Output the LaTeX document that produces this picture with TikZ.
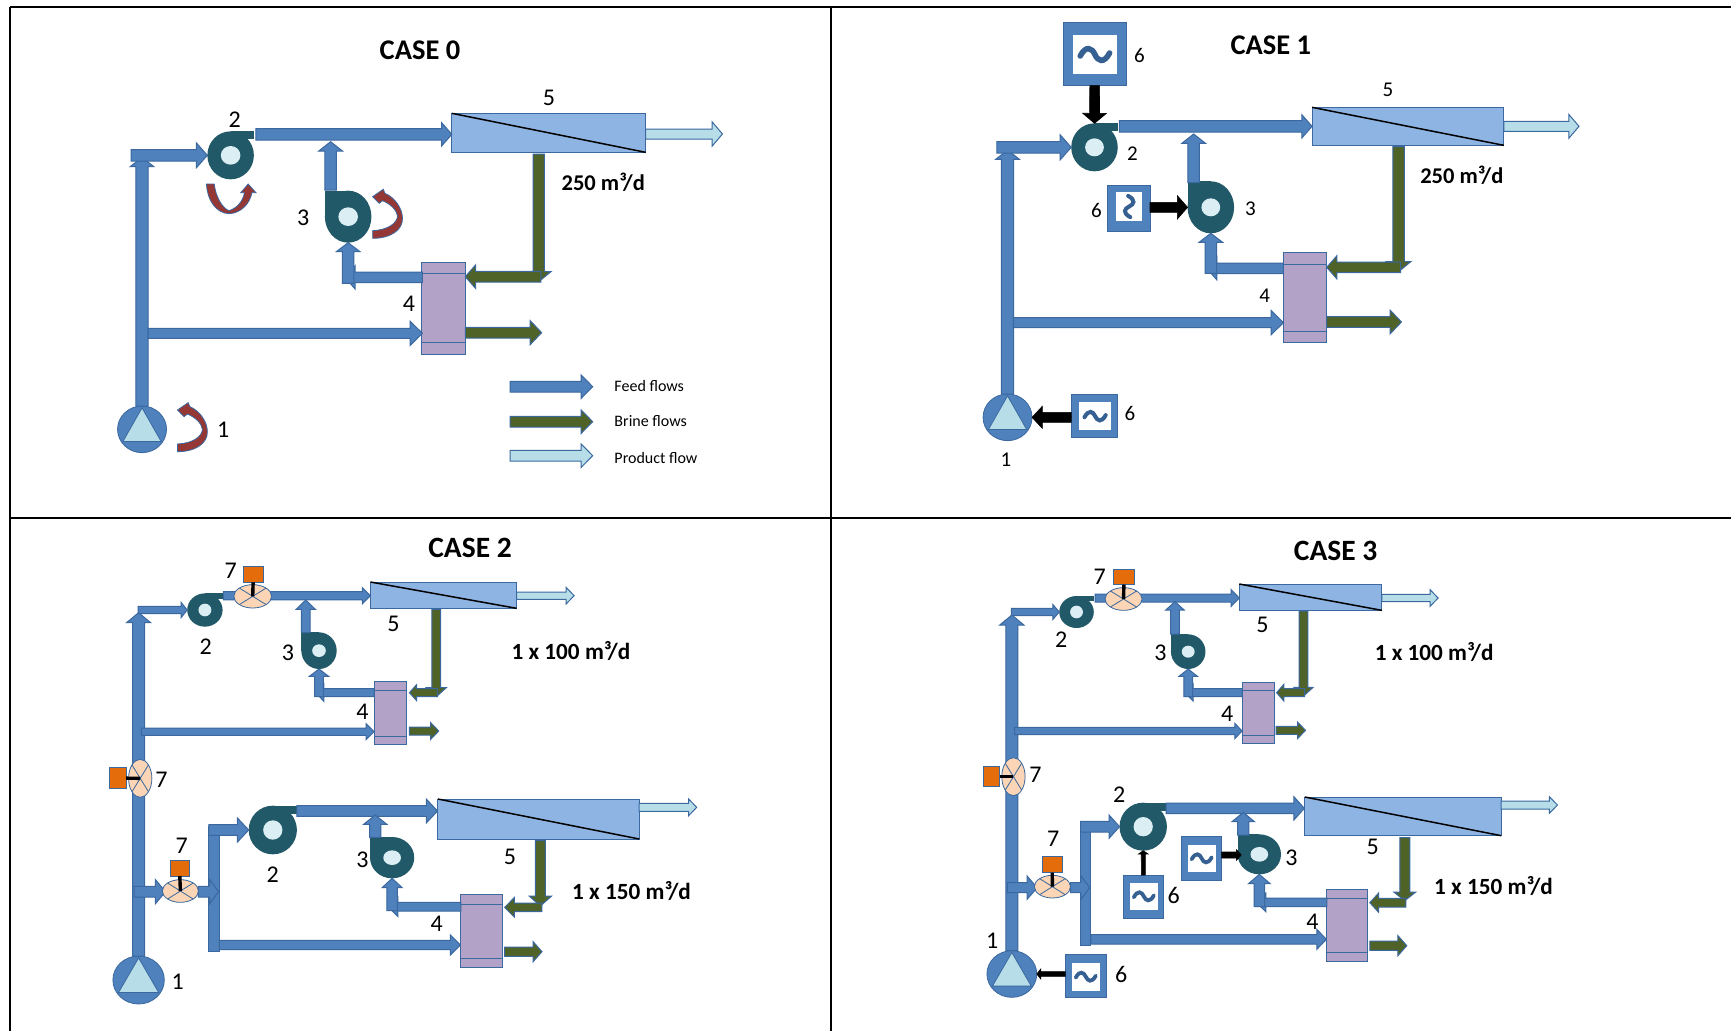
\documentclass[tikz,border=0pt]{standalone}
\usepackage{fontspec}
\setmainfont{Carlito}
\usetikzlibrary{calc,shapes.geometric}
\definecolor{feedC}{HTML}{4F81BD}
\definecolor{edgeC}{HTML}{3A689F}
\definecolor{brineC}{HTML}{4F6228}
\definecolor{prodC}{HTML}{B7DEE8}
\definecolor{pumpC}{HTML}{215968}
\definecolor{eyeC}{HTML}{DAEEF3}
\definecolor{memC}{HTML}{8EB4E3}
\definecolor{hxC}{HTML}{B3A2C7}
\definecolor{orC}{HTML}{E46C0A}
\definecolor{valC}{HTML}{FBD5B5}
\definecolor{redC}{HTML}{953735}
\definecolor{tildeC}{HTML}{376092}
\tikzset{
 flowedge/.style={draw=edgeC,line width=1pt,line join=miter},
 blackedge/.style={draw=black,line width=.6pt},
 boxbase/.style={rectangle,inner sep=0pt,outer sep=0pt},
 membox/.style={boxbase,draw=edgeC,line width=1pt,fill=memC},
 hxbox/.style={boxbase,draw=edgeC,line width=1pt,fill=hxC},
 orbox/.style={boxbase,draw=edgeC,line width=.8pt,fill=orC},
 vfdbox/.style={boxbase,draw=edgeC,line width=.6pt,fill=feedC},
 vfdin/.style={boxbase,fill=white},
 feedbar/.style={boxbase,draw=edgeC,line width=1pt,fill=feedC},
 lineedge/.style={draw=edgeC,line width=1pt},
 pumpbody/.style={ellipse,inner sep=0pt,outer sep=0pt,fill=pumpC},
 pumpeye/.style={ellipse,inner sep=0pt,fill=eyeC},
 feedpump/.style={ellipse,inner sep=0pt,outer sep=0pt,fill=feedC,draw=edgeC,line width=.8pt},
 valve/.style={ellipse,inner sep=0pt,outer sep=0pt,fill=valC,draw=edgeC,line width=.8pt},
 stem/.style={draw=black,line width=3.4pt},
 redshape/.style={fill=redC,draw=edgeC,line width=.8pt},
 title/.style={font=\fontsize{28.5}{32}\selectfont\bfseries,inner sep=0pt},
 titleB/.style={font=\fontsize{29.5}{32}\selectfont\bfseries,inner sep=0pt},
 rate/.style={font=\fontsize{22.5}{25}\selectfont\bfseries,inner sep=0pt},
 rateB/.style={font=\fontsize{23.2}{25}\selectfont\bfseries,inner sep=0pt},
 numA/.style={font=\fontsize{24}{26}\selectfont,inner sep=0pt},
 numB/.style={font=\fontsize{21}{26}\selectfont,inner sep=0pt},
 legend/.style={font=\fontsize{16}{19}\selectfont,inner sep=0pt,anchor=west},
 grid/.style={draw=black,line width=2pt},
}
\def\zs{2.45}
\def\zy{3}
\newdimen\fdx \newdimen\fdy
% sets \fW \fH \fL from width, head width, head length, by direction of the arrow
\newcommand\flowsizes[4]{%
 \pgfextractx{\fdx}{\pgfpointdiff{\pgfpointanchor{#1a}{center}}{\pgfpointanchor{#1b}{center}}}%
 \pgfextracty{\fdy}{\pgfpointdiff{\pgfpointanchor{#1a}{center}}{\pgfpointanchor{#1b}{center}}}%
 \ifdim\ifdim\fdx<0pt -\fi\fdx>\ifdim\fdy<0pt -\fi\fdy
  \pgfmathsetmacro\fW{#2/2/\zy}\pgfmathsetmacro\fH{#3/2/\zy}\pgfmathsetmacro\fL{#4/\zs}%
 \else
  \pgfmathsetmacro\fW{#2/2/\zs}\pgfmathsetmacro\fH{#3/2/\zs}\pgfmathsetmacro\fL{#4/\zy}%
 \fi}
% flow arrow: colour, name, start, end, width, head width, head length (reference zoom units)
\newcommand\flow[7]{%
 \coordinate (#2a) at #3; \coordinate (#2b) at #4;
 \flowsizes{#2}{#5}{#6}{#7}%
 \coordinate (#2m) at ($(#2b)!\fL pt!(#2a)$);
 \draw[flowedge,fill=#1] ($(#2a)!\fW pt!90:(#2b)$) -- ($(#2m)!\fW pt!90:(#2b)$) -- ($(#2m)!\fH pt!90:(#2b)$) -- (#2b) -- ($(#2m)!-\fH pt!90:(#2b)$) -- ($(#2m)!-\fW pt!90:(#2b)$) -- ($(#2a)!-\fW pt!90:(#2b)$) -- cycle;}
\newcommand\blk[6]{%
 \coordinate (#1a) at #2; \coordinate (#1b) at #3;
 \flowsizes{#1}{#4}{#5}{#6}%
 \coordinate (#1m) at ($(#1b)!\fL pt!(#1a)$);
 \draw[blackedge,fill=black] ($(#1a)!\fW pt!90:(#1b)$) -- ($(#1m)!\fW pt!90:(#1b)$) -- ($(#1m)!\fH pt!90:(#1b)$) -- (#1b) -- ($(#1m)!-\fH pt!90:(#1b)$) -- ($(#1m)!-\fW pt!90:(#1b)$) -- ($(#1a)!-\fW pt!90:(#1b)$) -- cycle;}
% rectangle node from corners
\newcommand\boxn[6]{%
 \pgfmathsetmacro\bW{abs(#4-#2)/\zs}\pgfmathsetmacro\bH{abs(#5-#3)/\zy}%
 \pgfmathsetmacro\bX{(#2+#4)/2}\pgfmathsetmacro\bY{(#3+#5)/2}%
 \node[#6,minimum width=\bW pt,minimum height=\bH pt] (#1) at (\bX,\bY) {};}
\newcommand\membrane[5]{\boxn{#1}{#2}{#3}{#4}{#5}{membox}\draw[black,line width=1.5pt] (#1.north west) -- (#1.south east);}
\newcommand\hx[7]{\boxn{#1}{#2}{#3}{#4}{#5}{hxbox}%
 \pgfmathsetmacro\hA{#6/\zy}\pgfmathsetmacro\hB{#7/\zy}%
 \draw[lineedge] ($(#1.north west)+(0,-\hA pt)$) -- ($(#1.north east)+(0,-\hA pt)$);
 \draw[lineedge] ($(#1.south west)+(0,\hB pt)$) -- ($(#1.south east)+(0,\hB pt)$);}
% centrifugal pumps: name,x,y,rx,ry,erx,ery
\newcommand\pumpTop[7]{%
 \pgfmathsetmacro\pW{2*#4/\zs}\pgfmathsetmacro\pH{2*#5/\zy}\pgfmathsetmacro\pR{#4/\zs}\pgfmathsetmacro\pN{#5*0.33/\zy}%
 \pgfmathsetmacro\eW{2*#6/\zs}\pgfmathsetmacro\eH{2*#7/\zy}%
 \node[pumpbody,minimum width=\pW pt,minimum height=\pH pt] (#1) at (#2,#3) {};
 \fill[pumpC] (#1.north) rectangle ++(\pR pt,-\pN pt);
 \node[pumpeye,minimum width=\eW pt,minimum height=\eH pt] (#1e) at (#1.center) {};}
\newcommand\pumpSide[7]{%
 \pgfmathsetmacro\pW{2*#4/\zs}\pgfmathsetmacro\pH{2*#5/\zy}\pgfmathsetmacro\pR{#4/\zs}\pgfmathsetmacro\pN{#5/\zy}%
 \pgfmathsetmacro\eW{2*#6/\zs}\pgfmathsetmacro\eH{2*#7/\zy}%
 \node[pumpbody,minimum width=\pW pt,minimum height=\pH pt] (#1) at (#2,#3) {};
 \fill[pumpC] (#1.center) rectangle ++(-\pR pt,\pN pt);
 \node[pumpeye,minimum width=\eW pt,minimum height=\eH pt] (#1e) at (#1.center) {};}
% feed pump: name,x,y,rx,ry
\newcommand\feedp[5]{%
 \pgfmathsetmacro\pW{2*#4/\zs}\pgfmathsetmacro\pH{2*#5/\zy}%
 \pgfmathsetmacro\tA{0.92*#5/\zy}\pgfmathsetmacro\tB{0.52*#5/\zy}\pgfmathsetmacro\tC{0.78*#4/\zs}%
 \node[feedpump,minimum width=\pW pt,minimum height=\pH pt] (#1) at (#2,#3) {};
 \draw[draw=edgeC,line width=.8pt,fill=prodC] ($(#1.center)+(0,\tA pt)$) -- ($(#1.center)+(\tC pt,-\tB pt)$) -- ($(#1.center)+(-\tC pt,-\tB pt)$) -- cycle;}
% valve: name,x,y,rx,ry
\newcommand\valv[5]{%
 \pgfmathsetmacro\pW{2*#4/\zs}\pgfmathsetmacro\pH{2*#5/\zy}%
 \node[valve,minimum width=\pW pt,minimum height=\pH pt] (#1) at (#2,#3) {};
 \draw[draw=edgeC,line width=.8pt] (#1.north west) -- (#1.south east) (#1.north east) -- (#1.south west);}
% drive: name, outer corners, inner corners
\newcommand\vfd[9]{\boxn{#1}{#2}{#3}{#4}{#5}{vfdbox}\boxn{#1i}{#6}{#7}{#8}{#9}{vfdin}}
\newcommand\tild[3]{%
 \pgfmathsetmacro\tS{#2/\zs}%
 \draw[draw=tildeC,line width=0.38*\tS pt,line cap=round,shift={(#1.center)},rotate=#3] (-\tS pt,-.1*\tS pt) .. controls (-.6*\tS pt,.65*\tS pt) and (-.2*\tS pt,.45*\tS pt) .. (0pt,0pt) .. controls (.2*\tS pt,-.45*\tS pt) and (.6*\tS pt,-.65*\tS pt) .. (\tS pt,.1*\tS pt);}
\newcommand\redarc[3]{%
 \begin{scope}[shift={(#2,#3)}]
 \draw[redshape] (668,475) .. controls (712,475) and (742,450) .. (741,415) .. controls (741,385) and (722,352) .. (698,340) -- (694,328) -- (668,350) -- (684,370) -- (692,362) .. controls (712,372) and (727,390) .. (729,408) .. controls (728,430) and (705,450) .. (668,452) -- cycle;
 \coordinate (#1) at (741,415);
 \end{scope}}
\begin{document}
\begin{tikzpicture}[x=1pt,y=-1pt]
\useasboundingbox (0,0) rectangle (1731,1031);
\fill[white] (0,0) rectangle (1731,1031);
\draw[grid] (10,7) -- (1731,7);
\draw[grid] (10,7) -- (10,1031);
\draw[grid] (830.5,7) -- (830.5,1031);
\draw[grid] (10,518) -- (1731,518);

%%%% CASE 0
\def\zs{2.45}
\begin{scope}[shift={(100pt,-80pt)},x=0.40816pt,y=-0.33333pt]
\node[title] (t0) at (784,-90) {CASE 0};
\feedp{c0p1}{103}{1048}{60}{70}
\pumpTop{c0p2}{320}{226}{57}{72}{24}{28}
\pumpSide{c0p3}{608}{410}{57}{78}{24}{28}
\membrane{c0m}{862}{100}{1337}{217}
\hx{c0h}{788}{546}{895}{822}{34}{35}
\flow{feedC}{c0a}{(c0p1.north)}{(103,232)}{30}{58}{28}
\flow{feedC}{c0b}{(76,226)}{(c0p2.west)}{35}{75}{27}
\flow{feedC}{c0c}{(382,163)}{(862,163)}{35}{70}{25}
\flow{feedC}{c0d}{(565,330)}{(565,185)}{28}{58}{28}
\flow{prodC}{c0e}{(1337,162)}{(1525,162)}{30}{72}{25}
\flow{brineC}{c0f}{(1075,222)}{(1075,605)}{28}{60}{30}
\flow{brineC}{c0g}{(1080,590)}{(895,590)}{32}{70}{25}
\flow{feedC}{c0i}{(790,592)}{(600,592)}{32}{70}{25}
\flow{feedC}{c0j}{(608,610)}{(c0p3.south)}{28}{58}{27}
\flow{feedC}{c0k}{(118,760)}{(790,760)}{30}{72}{30}
\flow{brineC}{c0l}{(895,758)}{(1082,758)}{32}{72}{28}
\flow{feedC}{c0n}{(1005,920)}{(1207,920)}{32}{70}{28}
\flow{brineC}{c0o}{(1005,1025)}{(1207,1025)}{32}{70}{28}
\flow{prodC}{c0q}{(1005,1127)}{(1207,1127)}{32}{70}{28}
\node[legend] (l0a) at (1260,918) {Feed flows};
\node[legend] (l0b) at (1260,1022) {Brine flows};
\node[legend] (l0c) at (1260,1135) {Product flow};
\redarc{c0r3}{0}{0}
\redarc{c0r1}{-478}{640}
\draw[redshape] (261,312) .. controls (262,360) and (285,400) .. (316,401) .. controls (345,400) and (368,370) .. (372,338) -- (382,338) -- (363,312) -- (345,338) -- (354,338) .. controls (350,365) and (335,385) .. (316,392) .. controls (300,385) and (283,350) .. (280,312) -- cycle;
\node[numA] (n0a) at (330,120) {2};
\node[numA] (n0b) at (498,412) {3};
\node[numA] (n0c) at (302,1048) {1};
\node[numA] (n0d) at (757,670) {4};
\node[numA] (n0e) at (1100,55) {5};
\node[rate] (r0) at (1233,307) {250 m³/d};
\end{scope}

%%%% CASE 1
\begin{scope}[shift={(970pt,-10pt)},x=0.40816pt,y=-0.33333pt]
\node[title] (t1) at (737,107) {CASE 1};
\feedp{c1p1}{92}{1222}{60}{70}
\pumpTop{c1p2}{305}{412}{57}{72}{23}{27}
\pumpSide{c1p3}{590}{592}{57}{78}{23}{27}
\membrane{c1m}{838}{292}{1308}{406}
\hx{c1h}{768}{728}{873}{998}{34}{33}
\flow{feedC}{c1a}{(c1p1.north)}{(92,420)}{30}{58}{28}
\flow{feedC}{c1b}{(66,412)}{(c1p2.west)}{35}{75}{27}
\flow{feedC}{c1c}{(366,349)}{(c1m.west)}{35}{70}{25}
\flow{feedC}{c1d}{(548,518)}{(548,372)}{28}{58}{28}
\flow{prodC}{c1e}{(c1m.east)}{(1492,349)}{30}{72}{25}
\flow{brineC}{c1f}{(1050,410)}{(1050,785)}{28}{60}{30}
\flow{brineC}{c1g}{(1055,772)}{(874,772)}{32}{70}{25}
\flow{feedC}{c1i}{(768,775)}{(580,775)}{32}{70}{25}
\flow{feedC}{c1j}{(590,790)}{(c1p3.south)}{28}{58}{27}
\flow{feedC}{c1k}{(106,938)}{(768,938)}{30}{72}{30}
\flow{brineC}{c1l}{(874,936)}{(1057,936)}{32}{72}{28}
\vfd{c1va}{228}{38}{383}{227}{252}{75}{360}{192}
\tild{c1vai}{36}{0}
\vfd{c1vb}{336}{527}{441}{663}{358}{547}{422}{632}
\tild{c1vbi}{26}{90}
\vfd{c1vc}{248}{1153}{362}{1282}{268}{1177}{345}{1260}
\tild{c1vci}{26}{0}
\blk{c1x}{(c1va.south)}{(c1p2.north)}{24}{58}{30}
\blk{c1y}{(441,592)}{(c1p3.west)}{30}{70}{25}
\blk{c1z}{(248,1222)}{(c1p1.east)}{30}{66}{25}
\node[numB] (n1a) at (415,137) {6};
\node[numB] (n1b) at (398,430) {2};
\node[numB] (n1c) at (310,602) {6};
\node[numB] (n1d) at (687,595) {3};
\node[numB] (n1e) at (722,858) {4};
\node[numB] (n1f) at (1024,238) {5};
\node[numB] (n1g) at (392,1210) {6};
\node[numB] (n1h) at (88,1348) {1};
\node[rate] (r1) at (1205,495) {250 m³/d};
\end{scope}

%%%% CASE 2
\def\zs{2.489}
\begin{scope}[shift={(90pt,-550pt)},x=0.40177pt,y=-0.33333pt]
\node[titleB] (t2) at (946,-6) {CASE 2};
\feedp{c2p1}{121}{1290}{64}{72}
\pumpTop{c2p2}{286}{180}{44}{50}{16}{19}
\pumpSide{c2p3}{570}{302}{44}{55}{17}{19}
\membrane{c2m}{698}{96}{1062}{175}
\hx{c2h}{707}{395}{788}{583}{25}{25}
\flow{feedC}{c2a}{(c2p1.north)}{(121,188)}{30}{60}{30}
\flow{feedC}{c2b}{(120,180)}{(c2p2.west)}{22}{45}{15}
\flow{feedC}{c2c}{(332,137)}{(698,137)}{25}{48}{20}
\flow{feedC}{c2d}{(537,248)}{(537,150)}{22}{48}{28}
\flow{prodC}{c2e}{(1062,137)}{(1205,137)}{22}{50}{20}
\flow{brineC}{c2f}{(862,178)}{(862,440)}{22}{50}{27}
\flow{brineC}{c2g}{(865,428)}{(795,428)}{24}{48}{18}
\flow{feedC}{c2i}{(707,428)}{(562,428)}{24}{52}{20}
\flow{feedC}{c2j}{(570,440)}{(c2p3.south)}{22}{48}{22}
\flow{feedC}{c2k}{(128,545)}{(707,545)}{22}{48}{20}
\flow{brineC}{c2l}{(795,543)}{(868,543)}{24}{50}{20}
\valv{c2v1}{405}{139}{47}{35}
\boxn{c2o1}{381}{48}{431}{97}{orbox}
\draw[stem] (c2o1.south) -- (c2v1.center);
\pumpTop{c2q2}{455}{840}{60}{73}{24}{29}
\pumpSide{c2q3}{752}{923}{55}{62}{22}{22}
\membrane{c2n}{866}{747}{1367}{867}
\hx{c2k2}{923}{1033}{1026}{1251}{29}{27}
\boxn{c2bar}{296}{830}{322}{1203}{feedbar}
\flow{feedC}{c2A}{(110,1025)}{(188,1025)}{32}{72}{25}
\flow{feedC}{c2B}{(270,1025)}{(320,1025)}{32}{72}{22}
\flow{feedC}{c2C}{(296,840)}{(c2q2.west)}{32}{72}{28}
\flow{feedC}{c2D}{(515,783)}{(865,783)}{32}{72}{28}
\flow{feedC}{c2E}{(710,862)}{(710,795)}{28}{58}{28}
\flow{prodC}{c2F}{(1367,772)}{(1510,772)}{24}{50}{20}
\flow{brineC}{c2G}{(1121,872)}{(1121,1068)}{25}{56}{30}
\flow{brineC}{c2H}{(1125,1072)}{(1032,1072)}{26}{58}{24}
\flow{feedC}{c2I}{(923,1070)}{(742,1070)}{26}{58}{24}
\flow{feedC}{c2J}{(752,1082)}{(c2q3.south)}{26}{50}{28}
\flow{feedC}{c2K}{(322,1185)}{(922,1185)}{28}{60}{25}
\flow{brineC}{c2L}{(1032,1205)}{(1125,1205)}{28}{60}{22}
\valv{c2v2}{225}{1023}{45}{34}
\boxn{c2o2}{199}{931}{248}{978}{orbox}
\draw[stem] (c2o2.south) -- (c2v2.center);
\valv{c2v3}{125}{685}{29}{57}
\boxn{c2o3}{48}{653}{90}{716}{orbox}
\draw[stem] (c2o3.east) -- (c2v3.center);
\node[numA] (n2a) at (350,62) {7};
\node[numA] (n2b) at (755,222) {5};
\node[numA] (n2c) at (493,307) {3};
\node[numA] (n2d) at (288,290) {2};
\node[numA] (n2e) at (678,485) {4};
\node[numA] (n2f) at (178,690) {7};
\node[numA] (n2g) at (228,887) {7};
\node[numA] (n2h) at (1045,920) {5};
\node[numA] (n2i) at (863,1122) {4};
\node[numA] (n2j) at (678,928) {3};
\node[numA] (n2k) at (455,973) {2};
\node[numA] (n2l) at (218,1296) {1};
\node[rateB] (r2a) at (1197,303) {1 x 100 m³/d};
\node[rateB] (r2b) at (1348,1022) {1 x 150 m³/d};
\end{scope}

%%%% CASE 3
\begin{scope}[shift={(960pt,-550pt)},x=0.40177pt,y=-0.33333pt]
\node[titleB] (t3) at (935,3) {CASE 3};
\feedp{c3p1}{129}{1272}{62}{70}
\pumpTop{c3p2}{290}{186}{43}{48}{16}{19}
\pumpSide{c3p3}{568}{305}{43}{52}{16}{18}
\membrane{c3m}{695}{102}{1050}{181}
\hx{c3h}{702}{396}{782}{580}{24}{24}
\flow{feedC}{c3a}{(c3p1.north)}{(129,195)}{30}{60}{30}
\flow{feedC}{c3b}{(128,186)}{(c3p2.west)}{22}{45}{16}
\flow{feedC}{c3c}{(336,144)}{(695,144)}{24}{50}{20}
\flow{feedC}{c3d}{(535,252)}{(535,155)}{22}{46}{25}
\flow{prodC}{c3e}{(1050,144)}{(1190,144)}{22}{50}{20}
\flow{brineC}{c3f}{(855,183)}{(855,438)}{22}{48}{26}
\flow{brineC}{c3g}{(858,428)}{(788,428)}{24}{50}{18}
\flow{feedC}{c3i}{(702,428)}{(560,428)}{24}{50}{20}
\flow{feedC}{c3j}{(568,440)}{(c3p3.south)}{22}{46}{22}
\flow{feedC}{c3k}{(136,543)}{(702,543)}{22}{46}{18}
\flow{brineC}{c3l}{(787,541)}{(860,541)}{24}{50}{20}
\valv{c3v1}{407}{147}{46}{34}
\boxn{c3o1}{383}{58}{433}{104}{orbox}
\draw[stem] (c3o1.south) -- (c3v1.center);
\pumpTop{c3q2}{456}{830}{59}{72}{24}{29}
\pumpSide{c3q3}{745}{913}{54}{60}{22}{22}
\membrane{c3n}{858}{741}{1347}{857}
\hx{c3k2}{913}{1019}{1013}{1234}{27}{27}
\boxn{c3bar}{300}{820}{326}{1187}{feedbar}
\flow{feedC}{c3A}{(118,1013)}{(192,1013)}{30}{70}{25}
\flow{feedC}{c3B}{(275,1013)}{(323,1013)}{30}{70}{22}
\flow{feedC}{c3C}{(300,830)}{(c3q2.west)}{32}{70}{26}
\flow{feedC}{c3D}{(513,775)}{(857,775)}{32}{70}{26}
\flow{feedC}{c3E}{(705,855)}{(705,787)}{28}{56}{28}
\flow{prodC}{c3F}{(1347,765)}{(1487,765)}{24}{50}{20}
\flow{brineC}{c3G}{(1107,863)}{(1107,1052)}{25}{55}{26}
\flow{brineC}{c3H}{(1110,1058)}{(1020,1058)}{26}{58}{22}
\flow{feedC}{c3I}{(913,1057)}{(737,1057)}{26}{56}{24}
\flow{feedC}{c3J}{(745,1070)}{(c3q3.south)}{26}{54}{28}
\flow{feedC}{c3K}{(326,1168)}{(912,1168)}{28}{60}{24}
\flow{brineC}{c3L}{(1020,1187)}{(1112,1187)}{28}{60}{22}
\valv{c3v2}{230}{1010}{45}{34}
\boxn{c3o2}{205}{920}{254}{968}{orbox}
\draw[stem] (c3o2.south) -- (c3v2.center);
\valv{c3v3}{133}{680}{29}{57}
\boxn{c3o3}{58}{650}{99}{710}{orbox}
\draw[stem] (c3o3.east) -- (c3v3.center);
\vfd{c3va}{551}{860}{651}{990}{567}{885}{636}{965}
\tild{c3vai}{25}{0}
\vfd{c3vb}{406}{975}{507}{1104}{423}{998}{492}{1080}
\tild{c3vbi}{25}{0}
\vfd{c3vc}{262}{1213}{363}{1342}{278}{1238}{348}{1322}
\tild{c3vci}{25}{0}
\blk{c3x}{(651,915)}{(700,915)}{18}{32}{12}
\blk{c3y}{(c3vb.north)}{(c3q2.south)}{10}{24}{10}
\blk{c3z}{(262,1272)}{(c3p1.east)}{14}{30}{10}
\node[numA] (n3a) at (348,80) {7};
\node[numA] (n3b) at (753,225) {5};
\node[numA] (n3c) at (499,307) {3};
\node[numA] (n3d) at (252,268) {2};
\node[numA] (n3e) at (665,490) {4};
\node[numA] (n3f) at (188,675) {7};
\node[numA] (n3g) at (232,865) {7};
\node[numA] (n3h) at (396,735) {2};
\node[numA] (n3i) at (825,923) {3};
\node[numA] (n3j) at (532,1037) {6};
\node[numA] (n3k) at (1027,890) {5};
\node[numA] (n3l) at (877,1115) {4};
\node[numA] (n3m) at (80,1173) {1};
\node[numA] (n3n) at (401,1273) {6};
\node[rateB] (r3a) at (1180,305) {1 x 100 m³/d};
\node[rateB] (r3b) at (1328,1008) {1 x 150 m³/d};
\end{scope}
\end{tikzpicture}
\end{document}
